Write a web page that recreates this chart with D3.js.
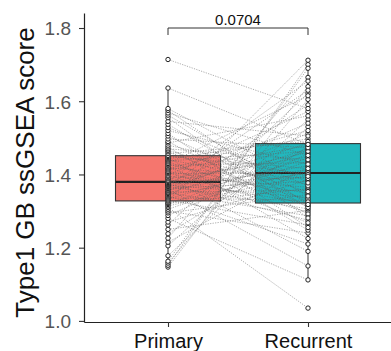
<!DOCTYPE html>
<html>
<head>
<meta charset="utf-8">
<script src="https://cdn.jsdelivr.net/npm/d3@7"></script>
<style>
  html, body { margin: 0; padding: 0; background: #fff; }
  svg { display: block; font-family: "Liberation Sans", Arial, Helvetica, sans-serif; }
</style>
</head>
<body>
<div id="chart"></div>
<script>
// paired ssGSEA scores, one entry per patient (same index in both arrays)
const groups = ['Primary', 'Recurrent'];
const groupColors = ['#F5766E', '#22B7BD'];
const primary = [
  1.147, 1.152, 1.158, 1.163, 1.178, 1.205, 1.215, 1.226, 1.238, 1.25, 1.262, 1.27, 1.28, 1.288, 1.295, 1.30, 1.305, 1.31, 1.314, 1.318, 1.321, 1.323,
  1.327, 1.33, 1.333, 1.336, 1.339, 1.342, 1.345, 1.348, 1.35, 1.352, 1.355, 1.357, 1.36, 1.362, 1.365, 1.367, 1.369, 1.371, 1.373, 1.374, 1.376, 1.377, 1.378,
  1.381, 1.384, 1.388, 1.391, 1.395, 1.398, 1.402, 1.405, 1.408, 1.412, 1.415, 1.418, 1.421, 1.425, 1.428, 1.43, 1.434, 1.437, 1.44, 1.443, 1.446, 1.449, 1.452,
  1.457, 1.462, 1.466, 1.47, 1.475, 1.48, 1.486, 1.49, 1.497, 1.505, 1.512, 1.52, 1.528, 1.537, 1.545, 1.555, 1.562, 1.568, 1.575, 1.58, 1.636, 1.714
];
const recurrent = [
  1.64, 1.70, 1.605, 1.69, 1.53, 1.55, 1.42, 1.665, 1.476, 1.302, 1.622, 1.385, 1.112, 1.456, 1.345, 1.24, 1.436, 1.035, 1.398, 1.466, 1.361, 1.408,
  1.712, 1.262, 1.444, 1.329, 1.59, 1.21, 1.403, 1.47, 1.287, 1.357, 1.512, 1.424, 1.15, 1.381, 1.485, 1.306, 1.63, 1.337, 1.412, 1.275, 1.54, 1.392, 1.46,
  1.655, 1.321, 1.448, 1.19, 1.365, 1.572, 1.405, 1.297, 1.349, 1.479, 1.52, 1.389, 1.268, 1.432, 1.333, 1.615, 1.313, 1.463, 1.373, 1.497, 1.225, 1.416, 1.4,
  1.49, 1.316, 1.353, 1.44, 1.248, 1.395, 1.56, 1.292, 1.473, 1.325, 1.255, 1.428, 1.369, 1.31, 1.505, 1.281, 1.341, 1.452, 1.318, 1.377, 1.482, 1.58
];
const yTicks = [1.0, 1.2, 1.4, 1.6, 1.8];
const pLabel = '0.0704';
const yTitle = 'Type1 GB ssGSEA score';

const width = 391, height = 351;
const panel = {left: 84, right: 392, top: 13, bottom: 322};

const svg = d3.select('#chart').append('svg')
  .attr('width', width)
  .attr('height', height);

const x = d3.scalePoint()
  .domain(groups)
  .range([panel.left, panel.right])
  .padding(0.6);

const y = d3.scaleLinear()
  .domain([0.997, 1.841])
  .range([panel.bottom, panel.top]);

const boxWidth = x.step() * 0.75;

function boxStats(values) {
  const s = values.slice().sort(d3.ascending);
  const q1 = d3.quantile(s, 0.25), med = d3.quantile(s, 0.5), q3 = d3.quantile(s, 0.75);
  const iqr = q3 - q1;
  const inside = s.filter(v => v >= q1 - 1.5 * iqr && v <= q3 + 1.5 * iqr);
  return {q1, med, q3, lo: d3.min(inside), hi: d3.max(inside)};
}

const series = [primary, recurrent];

// boxes
series.forEach((vals, i) => {
  const st = boxStats(vals);
  const cx = x(groups[i]);
  const g = svg.append('g');
  g.append('line')
    .attr('x1', cx).attr('x2', cx)
    .attr('y1', y(st.q3)).attr('y2', y(st.hi))
    .attr('stroke', '#333').attr('stroke-width', 1);
  g.append('line')
    .attr('x1', cx).attr('x2', cx)
    .attr('y1', y(st.q1)).attr('y2', y(st.lo))
    .attr('stroke', '#333').attr('stroke-width', 1);
  g.append('rect')
    .attr('x', cx - boxWidth / 2)
    .attr('y', y(st.q3))
    .attr('width', boxWidth)
    .attr('height', y(st.q1) - y(st.q3))
    .attr('fill', groupColors[i])
    .attr('stroke', '#333')
    .attr('stroke-width', 1.1);
  g.append('line')
    .attr('x1', cx - boxWidth / 2).attr('x2', cx + boxWidth / 2)
    .attr('y1', y(st.med)).attr('y2', y(st.med))
    .attr('stroke', '#222').attr('stroke-width', 2.2);
});

// paired lines
svg.append('g').selectAll('line')
  .data(d3.range(primary.length))
  .join('line')
  .attr('x1', x(groups[0]))
  .attr('y1', i => y(primary[i]))
  .attr('x2', x(groups[1]))
  .attr('y2', i => y(recurrent[i]))
  .attr('stroke', '#5f5f5f')
  .attr('stroke-width', 0.6)
  .attr('stroke-dasharray', '1.2,1.3')
  .attr('opacity', 0.85);

// points
series.forEach((vals, i) => {
  svg.append('g').selectAll('circle')
    .data(vals)
    .join('circle')
    .attr('cx', x(groups[i]))
    .attr('cy', d => y(d))
    .attr('r', 2.2)
    .attr('fill', '#fff')
    .attr('stroke', '#222')
    .attr('stroke-width', 1);
});

// axes
const yAxis = svg.append('g')
  .attr('transform', `translate(${panel.left},0)`)
  .call(d3.axisLeft(y).tickValues(yTicks).tickFormat(d3.format('.1f')).tickSize(5).tickSizeOuter(0).tickPadding(8));
yAxis.select('.domain').attr('stroke', '#222').attr('stroke-width', 1.2);
yAxis.selectAll('.tick line').attr('stroke', '#333').attr('stroke-width', 1.1);
yAxis.selectAll('.tick text')
  .attr('fill', '#555')
  .style('font-size', '19px')
  .attr('dy', '0.36em');

const xAxis = svg.append('g')
  .attr('transform', `translate(0,${panel.bottom})`)
  .call(d3.axisBottom(x).tickSize(5).tickSizeOuter(0));
xAxis.select('.domain').attr('stroke', '#222').attr('stroke-width', 1.2);
xAxis.selectAll('.tick line').attr('stroke', '#333').attr('stroke-width', 1.1);
xAxis.selectAll('.tick text')
  .attr('fill', '#111')
  .attr('y', 26)
  .attr('dy', 0)
  .style('font-size', '20px');

// y title
svg.append('text')
  .attr('transform', `translate(34,${(panel.top + panel.bottom) / 2 + 5}) rotate(-90)`)
  .attr('text-anchor', 'middle')
  .attr('fill', '#111')
  .style('font-size', '26px')
  .text(yTitle);

// significance bracket
const bracketY = 28;
svg.append('path')
  .attr('d', `M${x(groups[0])},${bracketY + 7}V${bracketY}H${x(groups[1])}V${bracketY + 7}`)
  .attr('fill', 'none')
  .attr('stroke', '#333')
  .attr('stroke-width', 1);
svg.append('text')
  .attr('x', (x(groups[0]) + x(groups[1])) / 2)
  .attr('y', bracketY - 3)
  .attr('text-anchor', 'middle')
  .attr('fill', '#111')
  .style('font-size', '15px')
  .text(pLabel);
</script>
</body>
</html>
